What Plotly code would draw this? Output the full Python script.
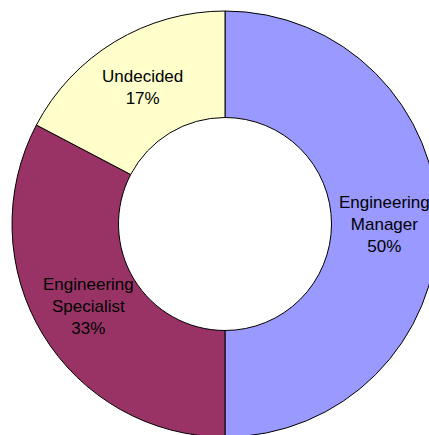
import math
import plotly.graph_objects as go

labels = ["Engineering Manager", "Engineering Specialist", "Undecided"]
label_text = ["Engineering<br>Manager", "Engineering<br>Specialist", "Undecided"]
values = [26, 17, 9]
colors = ["#9999FF", "#993366", "#FFFFCC"]

W, H = 450, 448
cx, cy, R = 225, 224, 213
hole = 0.5

fig = go.Figure(go.Pie(
    labels=labels,
    values=values,
    sort=False,
    direction="clockwise",
    rotation=0,
    hole=hole,
    marker=dict(colors=colors, line=dict(color="black", width=1)),
    textinfo="none",
    hoverinfo="label+percent",
    showlegend=False,
    domain=dict(x=[(cx - R) / W, (cx + R) / W], y=[1 - (cy + R) / H, 1 - (cy - R) / H]),
))

total = sum(values)
cum = 0
rmid = R * (1 + hole) / 2
for lab, v in zip(label_text, values):
    mid = (cum + v / 2) / total * 2 * math.pi
    cum += v
    px = cx + rmid * math.sin(mid)
    py = cy - rmid * math.cos(mid)
    pct = round(100 * v / total)
    fig.add_annotation(
        x=px / W, y=1 - py / H, xref="paper", yref="paper",
        text=f"{lab}<br>{pct}%", showarrow=False,
        font=dict(family="Liberation Sans, Arial, sans-serif", size=17, color="black"),
        align="center", xanchor="center", yanchor="middle",
    )

fig.update_layout(
    width=W, height=H,
    margin=dict(l=0, r=0, t=0, b=0),
    paper_bgcolor="white", plot_bgcolor="white",
)

fig.write_html("out.html", post_script="document.body.style.margin='0';document.body.style.overflow='hidden';document.documentElement.style.overflow='hidden';")
